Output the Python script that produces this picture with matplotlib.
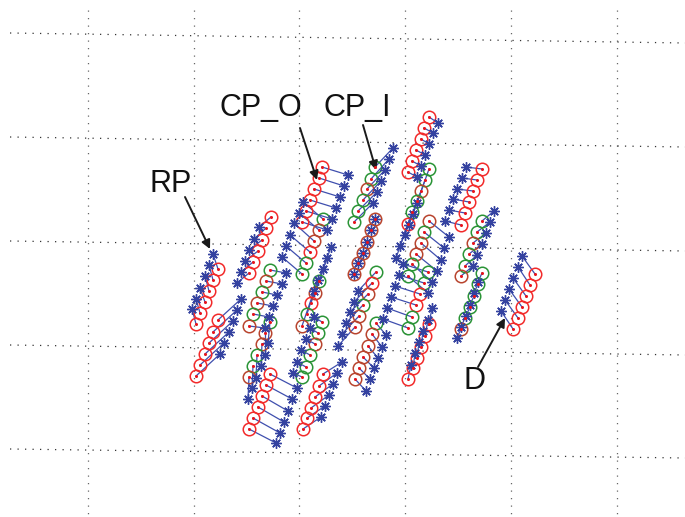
import matplotlib.pyplot as plt

# picture coordinates in pixels (y grows downward)
# every group: circle centres, asterisk positions, circle colours (r=red, g=green, b=brown)
rp_circ = [(218, 269), (213, 280), (209, 291), (205, 302), (200, 313), (196, 324)]
rp_star = [(213, 254), (209, 265), (205, 276), (200, 288), (196, 299), (192, 309)]
rp_col = 'rrrrrr'

b_circ = [(218, 320), (213, 332), (209, 343), (205, 354), (200, 365), (196, 376)]
b_star = [(241, 299), (237, 310), (233, 321), (229, 332), (224, 343), (220, 354)]
b_col = 'rrrrrr'

c_circ = [(271, 217), (266, 228), (262, 240), (258, 251), (253, 262), (249, 273)]
c_star = [(259, 227), (254, 239), (249, 250), (245, 261), (241, 272), (237, 283)]
c_col = 'rrrrrr'

d_circ = [(270, 270), (266, 281), (262, 292), (257, 303), (253, 314), (249, 326)]
d_star = [(286, 273), (282, 284), (277, 295), (273, 306), (269, 317), (265, 328)]
d_col = 'gbgbgb'

e_circ = [(270, 322), (265, 333), (262, 344), (257, 355), (253, 366), (249, 377)]
e_star = [(268, 343), (265, 355), (261, 366), (256, 378), (252, 388), (248, 399)]
e_col = 'gbbggb'

f_circ = [(270, 374), (266, 385), (262, 396), (258, 407), (253, 418), (249, 429)]
f_star = [(297, 388), (292, 399), (288, 411), (284, 422), (280, 433), (276, 443)]
f_col = 'rrrrrr'

cpo_circ = [(322, 167), (319, 178), (314, 189), (310, 200), (306, 211), (302, 222)]
cpo_star = [(348, 175), (344, 186), (340, 197), (336, 208), (332, 219), (327, 230)]
cpo_col = 'rrrrrr'

h_circ = [(323, 219), (319, 230), (314, 241), (310, 252), (306, 263), (302, 274)]
h_star = [(303, 202), (299, 213), (294, 223), (290, 235), (286, 246), (282, 257)]
h_col = 'gbbrgg'

j_circ = [(319, 281), (315, 293), (311, 303), (307, 314), (302, 326)]
j_star = [(331, 247), (327, 258), (323, 269), (318, 280), (314, 291)]
j_col = 'gbrgb'

i_circ = [(322, 322), (318, 333), (315, 344), (310, 355), (306, 367), (302, 377)]
i_star = [(314, 317), (310, 328), (306, 339), (301, 350), (297, 362), (293, 373)]
i_col = 'ggbggg'

cpi_circ = [(375, 167), (371, 179), (367, 189), (363, 200), (358, 211), (354, 222)]
cpi_star = [(393, 148), (389, 159), (385, 170), (381, 181), (377, 192), (373, 203)]
cpi_col = 'ggbggg'

l_circ = [(375, 219), (371, 230), (367, 242), (363, 253), (358, 263), (354, 274)]
l_star = [(375, 219), (371, 230), (367, 242), (363, 253), (358, 263), (354, 274)]
l_col = 'bbbbbb'

m_circ = [(376, 272), (372, 283), (368, 294), (363, 305), (359, 316), (355, 327)]
m_star = [(358, 291), (354, 302), (350, 312), (346, 323), (342, 334), (338, 346)]
m_col = 'grbgbb'

n_circ = [(376, 323), (372, 334), (368, 346), (363, 357), (359, 368), (355, 379)]
n_star = [(386, 335), (382, 347), (378, 358), (374, 368), (370, 379), (366, 391)]
n_col = 'gbbbbb'

o_circ = [(323, 374), (319, 386), (315, 397), (311, 408), (307, 418), (303, 429)]
o_star = [(342, 362), (337, 373), (333, 384), (329, 395), (325, 406), (321, 417)]
o_col = 'rrrrrr'

p_circ = [(429, 117), (424, 128), (421, 139), (416, 150), (412, 161), (408, 172)]
p_star = [(438, 123), (433, 133), (429, 144), (425, 155), (421, 166), (417, 177)]
p_col = 'rrrrrr'

q_circ = [(429, 169), (425, 180), (421, 191), (417, 201), (412, 212), (408, 224)]
q_star = [(417, 203), (413, 214), (409, 225), (405, 235), (400, 246), (396, 258)]
q_col = 'ggbggr'

r_circ = [(429, 221), (424, 232), (421, 243), (416, 254), (412, 264), (408, 276)]
r_star = [(449, 237), (444, 248), (441, 260), (437, 271), (432, 282), (428, 293)]
r_col = 'bgbbgg'

s_circ = [(428, 272), (424, 283), (420, 294), (416, 305), (412, 317), (408, 328)]
s_star = [(403, 264), (399, 275), (395, 286), (391, 297), (387, 308), (383, 319)]
s_col = 'ggrrgg'

t_circ = [(429, 324), (425, 336), (421, 347), (417, 358), (413, 368), (408, 379)]
t_star = [(432, 308), (428, 320), (423, 331), (419, 342), (415, 353), (411, 365)]
t_col = 'rrrrrr'

u_circ = [(482, 169), (477, 180), (473, 191), (469, 202), (465, 213), (461, 225)]
u_star = [(466, 167), (462, 178), (457, 189), (453, 199), (449, 210), (445, 221)]
u_col = 'rrrrrr'

v_circ = [(482, 221), (477, 232), (473, 243), (469, 254), (465, 266), (461, 276)]
v_star = [(494, 211), (490, 222), (486, 233), (482, 244), (477, 255), (473, 266)]
v_col = 'ggbggb'

w_circ = [(482, 273), (478, 284), (474, 296), (470, 307), (465, 318), (461, 329)]
w_star = [(478, 282), (474, 293), (470, 305), (466, 316), (461, 327), (457, 338)]
w_col = 'gggggb'

d_grp_circ = [(535, 274), (530, 285), (526, 296), (522, 307), (518, 318), (513, 329)]
d_grp_star = [(522, 256), (518, 267), (513, 278), (509, 289), (505, 300), (501, 311)]
d_grp_col = 'rrrrrr'

# annotation labels: text, text position, arrow start, arrow tip
labels = ['RP', 'CP_O', 'CP_I', 'D']
label_pos = [(171, 184), (261, 108), (357, 108), (475, 381)]
arrow_from = [(185, 197), (300, 128), (363, 125), (478, 367)]
arrow_to = [(210, 249), (317, 180), (376, 170), (505, 318)]

# dotted grid (slightly tilted horizontals)
grid_x = [88, 194, 299, 405, 511, 617]
grid_y_left = [33, 137, 241, 345, 449]
grid_y_right = [43, 147, 251, 355, 458]

groups = [
    (rp_circ, rp_star, rp_col), (b_circ, b_star, b_col), (c_circ, c_star, c_col),
    (d_circ, d_star, d_col), (e_circ, e_star, e_col), (f_circ, f_star, f_col),
    (cpo_circ, cpo_star, cpo_col), (h_circ, h_star, h_col), (j_circ, j_star, j_col),
    (i_circ, i_star, i_col), (cpi_circ, cpi_star, cpi_col), (l_circ, l_star, l_col),
    (m_circ, m_star, m_col), (n_circ, n_star, n_col), (o_circ, o_star, o_col),
    (p_circ, p_star, p_col), (q_circ, q_star, q_col), (r_circ, r_star, r_col),
    (s_circ, s_star, s_col), (t_circ, t_star, t_col), (u_circ, u_star, u_col),
    (v_circ, v_star, v_col), (w_circ, w_star, w_col), (d_grp_circ, d_grp_star, d_grp_col),
]

edge = {'r': '#f22a2a', 'g': '#2a9436', 'b': '#b8442e'}
star_color = '#3442a0'
line_color = '#3f4fae'

fig = plt.figure(figsize=(6.85, 5.17), dpi=100)
ax = fig.add_axes([0, 0, 1, 1])
ax.set_xlim(0, 685)
ax.set_ylim(517, 0)
ax.axis('off')

for x in grid_x:
    ax.plot([x, x], [10, 517], color='#666666', lw=0.9, ls=(0, (1, 5)), zorder=0)
for yl, yr in zip(grid_y_left, grid_y_right):
    ax.plot([10, 685], [yl, yr], color='#333333', lw=0.9, ls=(0, (1, 5)), zorder=0)

for circ, star, col in groups:
    for (cx, cy), (sx, sy) in zip(circ, star):
        ax.plot([cx, sx], [cy, sy], color=line_color, lw=0.9, zorder=2)
for circ, star, col in groups:
    for (cx, cy), c in zip(circ, col):
        ax.plot(cx, cy, 'o', ms=9, mfc='none', mec=edge[c], mew=1.1, zorder=3)
    for sx, sy in star:
        ax.plot(sx, sy, marker=(8, 2, 0), ms=7.5, color=star_color, mew=1.0, zorder=4)
    for cx, cy in circ:
        ax.plot(cx, cy, 'o', ms=2.2, color='#e8141c', mew=0, zorder=5)

for txt, pos, a0, a1 in zip(labels, label_pos, arrow_from, arrow_to):
    ax.text(pos[0], pos[1], txt, fontsize=22, family='Liberation Sans',
            ha='center', va='center', color='#111111')
    ax.annotate('', xy=a1, xytext=a0,
                arrowprops=dict(arrowstyle='-|>', color='#1a1a1a', lw=1.4,
                                mutation_scale=13, shrinkA=0, shrinkB=0))

fig.savefig('out.png', dpi=100)
